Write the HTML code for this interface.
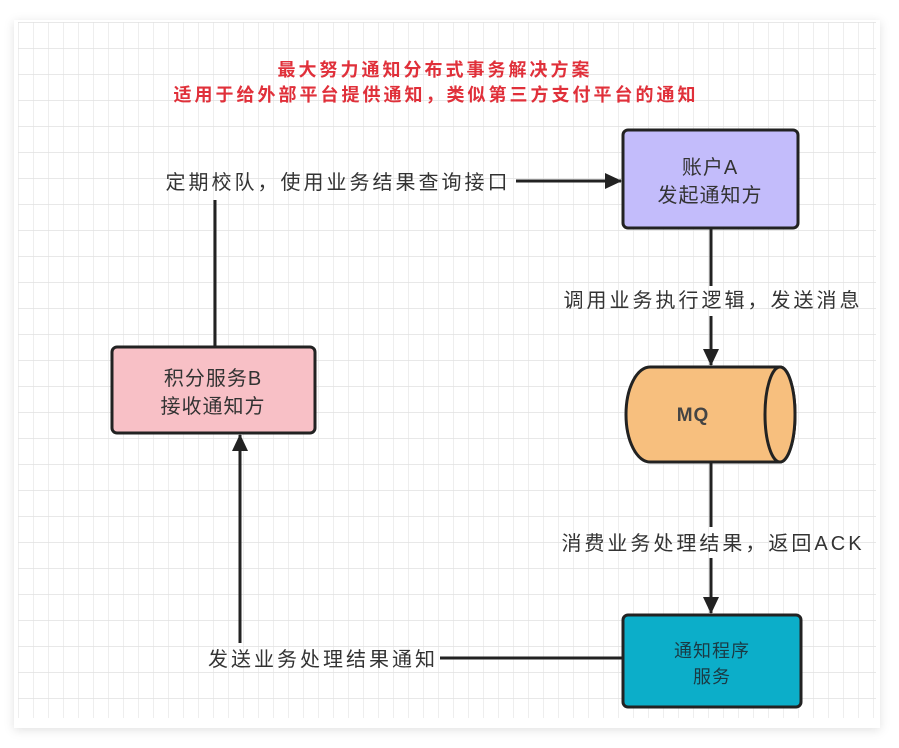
<!DOCTYPE html>
<html><head><meta charset="utf-8"><style>
body{margin:0;width:899px;height:748px;background:#fff;overflow:hidden;font-family:"Liberation Sans","Noto Sans CJK SC",sans-serif;}
</style></head><body>
<svg width="899" height="748" xmlns="http://www.w3.org/2000/svg" style="position:absolute;left:0;top:0">
<defs>
<pattern id="g" x="18" y="22" width="15" height="26" patternUnits="userSpaceOnUse">
<path d="M0 0V26" stroke="#dcdcdc" stroke-width="1"/>
<path d="M0 0H15" stroke="#e0e0e0" stroke-width="1.5"/>
</pattern>
<marker id="b" markerWidth="18" markerHeight="18" refX="16" refY="8" orient="auto" markerUnits="userSpaceOnUse"><path d="M0 0L17 8L0 16Z" fill="#222"/></marker>
<filter id="s" x="-5%" y="-5%" width="110%" height="110%"><feDropShadow dx="0" dy="2" stdDeviation="5" flood-color="#000" flood-opacity="0.12"/></filter>
</defs>
<rect x="14" y="20" width="866" height="708" fill="#fff" filter="url(#s)"/>
<rect x="18" y="22" width="858" height="696" fill="url(#g)"/>
<g font-family="Liberation Sans,Noto Sans CJK SC,sans-serif" text-anchor="middle">
<text x="435" y="76" fill="#e0303a" font-size="18" font-weight="bold" letter-spacing="3">最大努力通知分布式事务解决方案</text>
<text x="436" y="101" fill="#e0303a" font-size="18" font-weight="bold" letter-spacing="3">适用于给外部平台提供通知，类似第三方支付平台的通知</text>
<g font-size="20" letter-spacing="3" fill="#333">
<text x="338" y="189">定期校队，使用业务结果查询接口</text>
<text x="713" y="307">调用业务执行逻辑，发送消息</text>
<text x="713" y="550">消费业务处理结果，返回ACK</text>
<text x="323" y="666">发送业务处理结果通知</text>
</g>
</g>
<g stroke="#222" stroke-width="3" fill="none">
<line x1="516" y1="181" x2="621" y2="181" marker-end="url(#b)"/>
<line x1="215" y1="200" x2="215" y2="347"/>
<line x1="711" y1="228" x2="711" y2="286"/>
<line x1="711" y1="316" x2="711" y2="365" marker-end="url(#b)"/>
<line x1="711" y1="462" x2="711" y2="527"/>
<line x1="711" y1="558" x2="711" y2="613" marker-end="url(#b)"/>
<line x1="623" y1="658" x2="440" y2="658"/>
<line x1="240" y1="643" x2="240" y2="435" marker-end="url(#b)"/>
</g>
<rect x="623" y="130" width="175" height="98" rx="5" fill="#c3bcfb" stroke="#222" stroke-width="3"/>
<rect x="112" y="347" width="203" height="86" rx="5" fill="#f8c0c6" stroke="#222" stroke-width="3"/>
<path d="M650 367H780A15 47.5 0 0 1 780 462H650A24 47.5 0 0 1 650 367Z" fill="#f7bf7e" stroke="#222" stroke-width="3"/>
<ellipse cx="780" cy="414.5" rx="15" ry="47.5" fill="#f7bf7e" stroke="#222" stroke-width="3"/>
<rect x="623" y="615" width="178" height="92" rx="5" fill="#0caec9" stroke="#222" stroke-width="3"/>
<g font-family="Liberation Sans,Noto Sans CJK SC,sans-serif" text-anchor="middle" font-size="20" letter-spacing="1" fill="#333">
<text x="710" y="174">账户A</text>
<text x="710" y="202">发起通知方</text>
<text x="213" y="385">积分服务B</text>
<text x="213" y="413">接收通知方</text>
<text x="693" y="421" font-size="19" font-weight="bold" fill="#444">MQ</text>
<text x="712" y="657" font-size="18" fill="#1a3a44">通知程序</text>
<text x="712" y="683" font-size="18" fill="#1a3a44">服务</text>
</g>
</svg>
</body></html>
